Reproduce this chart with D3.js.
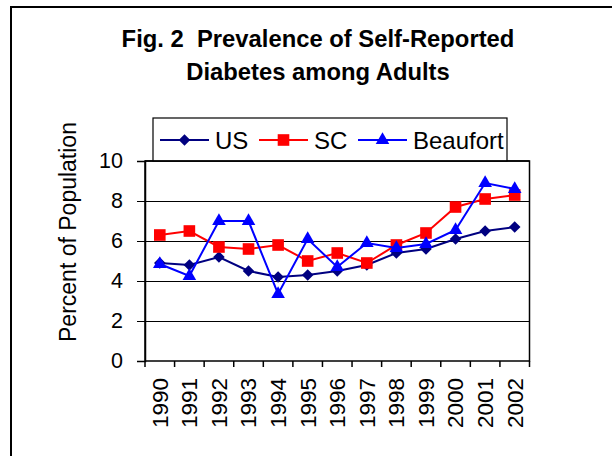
<!DOCTYPE html>
<html><head><meta charset="utf-8">
<script src="https://cdn.jsdelivr.net/npm/d3@7"></script>
<style>body{margin:0;background:#fff}svg{display:block}text{font-family:"Liberation Sans",Arial,sans-serif;white-space:pre}</style>
</head><body>
<svg id="c" width="612" height="456"></svg>
<script>
const years = ["1990","1991","1992","1993","1994","1995","1996","1997","1998","1999","2000","2001","2002"];
const usValues = [4.9,4.8,5.2,4.5,4.2,4.3,4.5,4.8,5.4,5.6,6.1,6.5,6.7];
const scValues = [6.3,6.5,5.7,5.6,5.8,5.0,5.4,4.9,5.8,6.4,7.7,8.1,8.3];
const beaufortValues = [4.85,4.25,7.0,7.0,3.35,6.1,4.7,5.9,5.65,5.85,6.55,8.9,8.6];
const yTicks = [0,2,4,6,8,10];
const seriesNames = ["US","SC","Beaufort"];
const titleLines = ["Fig. 2  Prevalence of Self-Reported","Diabetes among Adults"];
const yLabel = "Percent of Population";

const svg = d3.select("#c");
// outer frame
svg.append("rect").attr("x",11).attr("y",7).attr("width",700).attr("height",600)
  .attr("fill","none").attr("stroke","#000").attr("stroke-width",2);

// title
svg.selectAll("text.title").data(titleLines).join("text").attr("class","title")
  .attr("x",318).attr("y",(d,i)=>47+i*33).attr("text-anchor","middle")
  .attr("xml:space","preserve")
  .attr("font-size",23.8).attr("font-weight","bold").text(d=>d);

const L=145,R=529.5,T=161,B=361;
const x = d3.scaleBand().domain(years).range([L,R]);
const y = d3.scaleLinear().domain([0,10]).range([B,T]);

// gridlines
svg.append("g").selectAll("line").data(yTicks.filter(v=>v>0&&v<10)).join("line")
  .attr("x1",L).attr("x2",R).attr("y1",d=>y(d)).attr("y2",d=>y(d))
  .attr("stroke","#000").attr("stroke-width",1).attr("shape-rendering","crispEdges");

// plot border
svg.append("rect").attr("x",L).attr("y",T).attr("width",R-L).attr("height",B-T)
  .attr("fill","none").attr("stroke","#000").attr("stroke-width",1.5);

// y axis
const yAxis = d3.axisLeft(y).tickValues(yTicks).tickSize(8).tickPadding(14).tickFormat(d3.format("d"));
const gy = svg.append("g").attr("transform",`translate(${L},0)`).call(yAxis);
gy.select(".domain").attr("stroke-width",1.5);
gy.selectAll("text").attr("font-size",21.5).attr("fill","#000").attr("font-family","Liberation Sans, Arial");

// x axis ticks between categories
const boundaries = years.map(yr=>x(yr)).concat([R]);
svg.append("g").selectAll("line").data(boundaries).join("line")
  .attr("x1",d=>d).attr("x2",d=>d).attr("y1",B).attr("y2",B+6)
  .attr("stroke","#000").attr("stroke-width",1.5);
svg.append("g").selectAll("text").data(years).join("text")
  .attr("transform",d=>`translate(${x(d)+x.bandwidth()/2},${378}) rotate(-90)`)
  .attr("text-anchor","end").attr("dy","0.35em").attr("font-size",22.5).text(d=>d);

// y label
svg.append("text").attr("transform","translate(76,232) rotate(-90)")
  .attr("text-anchor","middle").attr("font-size",23).text(yLabel);

const cx = d=>x(d)+x.bandwidth()/2;
const series = [
  {name:seriesNames[0], values:usValues, color:"#000080", shape:d3.symbolDiamond2, size:85},
  {name:seriesNames[1], values:scValues, color:"#FF0000", shape:d3.symbolSquare, size:135},
  {name:seriesNames[2], values:beaufortValues, color:"#0000FF", shape:d3.symbolTriangle, size:80}
];
const line = d3.line().x((d,i)=>cx(years[i])).y(d=>y(d));
series.forEach(s=>{
  svg.append("path").attr("d",line(s.values)).attr("fill","none").attr("stroke",s.color).attr("stroke-width",2);
  svg.append("g").selectAll("path").data(s.values).join("path")
    .attr("transform",(d,i)=>`translate(${cx(years[i])},${y(d)})`)
    .attr("d",d3.symbol().type(s.shape).size(s.size)).attr("fill",s.color);
});

// legend
svg.append("rect").attr("x",153).attr("y",118).attr("width",354).attr("height",43)
  .attr("fill","#fff").attr("stroke","#000").attr("stroke-width",1.2);
const legX = [160,259,358];
series.forEach((s,i)=>{
  const g = svg.append("g").attr("transform",`translate(${legX[i]},140)`);
  g.append("line").attr("x1",0).attr("x2",49).attr("stroke",s.color).attr("stroke-width",2);
  g.append("path").attr("transform","translate(24.5,0)").attr("d",d3.symbol().type(s.shape).size(s.size)).attr("fill",s.color);
  g.append("text").attr("x",55).attr("dy","0.36em").attr("font-size",24).text(s.name);
});
// restore plot top border over legend bottom
svg.append("line").attr("x1",L).attr("x2",R).attr("y1",T).attr("y2",T).attr("stroke","#000").attr("stroke-width",1.5);
</script>
</body></html>
